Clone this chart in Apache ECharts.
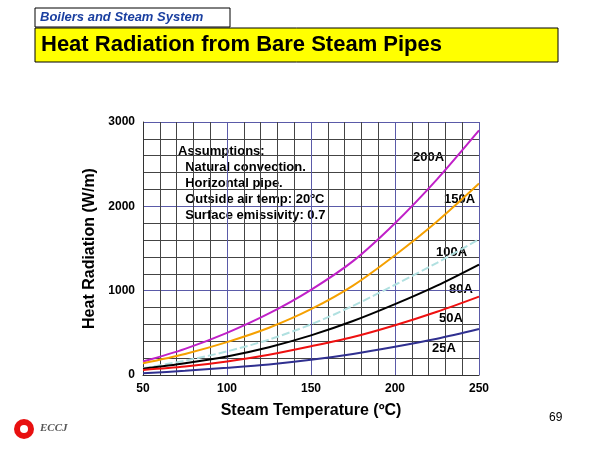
<!DOCTYPE html>
<html><head><meta charset="utf-8">
<script src="https://cdn.jsdelivr.net/npm/echarts@6/dist/echarts.min.js"></script>
<style>html,body{margin:0;padding:0;background:#fff}#chart{width:600px;height:450px}</style>
</head><body><div id="chart"></div>
<script>
var temps = [50, 75, 100, 125, 150, 175, 200, 225, 250];
var pipe200A = [160, 310, 500, 730, 1010, 1350, 1800, 2320, 2900];
var pipe150A = [140, 250, 390, 560, 780, 1060, 1420, 1820, 2270];
var pipe100A = [80, 170, 280, 420, 600, 820, 1070, 1330, 1610];
var pipe80A = [75, 140, 220, 330, 470, 640, 840, 1060, 1310];
var pipe50A = [60, 100, 160, 240, 340, 450, 590, 750, 930];
var pipe25A = [20, 50, 85, 125, 180, 250, 335, 430, 545];
var xTicks = [50, 100, 150, 200, 250];
var yTicks = [0, 1000, 2000, 3000];

var chart = echarts.init(document.getElementById('chart'));
function pairs(vals) { return temps.map(function (t, i) { return [t, vals[i]]; }); }
function line(name, vals, color, type) {
    return { name: name, type: 'line', smooth: 0.3, symbol: 'none', data: pairs(vals),
        lineStyle: { color: color, width: 2, type: type || 'solid' } };
}
var gridColors = ['#5a5aa8', '#444', '#444', '#444', '#444'];
var lbl = { fontFamily: 'Liberation Sans', fontWeight: 'bold', fontSize: 13, fill: '#000' };
function txt(x, y, s, extra) {
    return { type: 'text', left: x, top: y, style: Object.assign({ text: s }, lbl, extra || {}) };
}
chart.setOption({
    animation: false,
    grid: { left: 143, right: 121, top: 122, bottom: 75 },
    xAxis: {
        type: 'value', min: 50, max: 250, interval: 10,
        axisLine: { lineStyle: { color: '#333' } }, axisTick: { show: false },
        splitLine: { show: true, lineStyle: { color: gridColors, width: 1 } },
        axisLabel: { color: '#000', fontWeight: 'bold', fontSize: 12, fontFamily: 'Liberation Sans', margin: 8,
            formatter: function (v) { return xTicks.indexOf(v) >= 0 ? String(v) : ''; } },
        name: 'Steam Temperature (ºC)', nameLocation: 'middle', nameGap: 28,
        nameTextStyle: { color: '#000', fontWeight: 'bold', fontSize: 16, fontFamily: 'Liberation Sans' }
    },
    yAxis: {
        type: 'value', min: 0, max: 3000, interval: 200,
        axisLine: { show: true, lineStyle: { color: '#333' } }, axisTick: { show: false },
        splitLine: { show: true, lineStyle: { color: gridColors, width: 1 } },
        axisLabel: { color: '#000', fontWeight: 'bold', fontSize: 12, fontFamily: 'Liberation Sans', margin: 8,
            formatter: function (v) { return yTicks.indexOf(v) >= 0 ? String(v) : ''; } },
        name: 'Heat Radiation (W/m)', nameLocation: 'middle', nameGap: 38,
        nameTextStyle: { color: '#000', fontWeight: 'bold', fontSize: 16, fontFamily: 'Liberation Sans' }
    },
    series: [
        line('200A', pipe200A, '#c020c8'),
        line('150A', pipe150A, '#f5a000'),
        line('100A', pipe100A, '#b0e0e0', [8, 3]),
        line('80A', pipe80A, '#000000'),
        line('50A', pipe50A, '#ee1010'),
        line('25A', pipe25A, '#303090')
    ],
    graphic: [
        { type: 'rect', shape: { x: 35, y: 8, width: 195, height: 19 }, style: { fill: '#fff', stroke: '#000', lineWidth: 1 } },
        txt(40, 11, 'Boilers and Steam System', { fill: '#1a3fa0', fontStyle: 'italic' }),
        { type: 'rect', shape: { x: 35, y: 28, width: 523, height: 34 }, style: { fill: '#ffff00', stroke: '#000', lineWidth: 1 } },
        txt(41, 34, 'Heat Radiation from Bare Steam Pipes', { fontSize: 22 }),
        txt(178, 143, 'Assumptions:\n  Natural convection.\n  Horizontal pipe.\n  Outside air temp: 20ºC\n  Surface emissivity: 0.7', { lineHeight: 16 }),
        txt(413, 151, '200A'), txt(444, 193, '150A'), txt(436, 246, '100A'),
        txt(449, 283, '80A'), txt(439, 312, '50A'), txt(432, 342, '25A'),
        txt(549, 412, '69', { fontWeight: 'normal', fontSize: 12 }),
        { type: 'circle', shape: { cx: 24, cy: 429, r: 10 }, style: { fill: '#e81010' } },
        { type: 'circle', shape: { cx: 24, cy: 429, r: 4 }, style: { fill: '#fff' } },
        txt(40, 423, 'ECCJ', { fontFamily: 'Liberation Serif', fontStyle: 'italic', fill: '#555', fontSize: 11 })
    ]
});
</script></body></html>
